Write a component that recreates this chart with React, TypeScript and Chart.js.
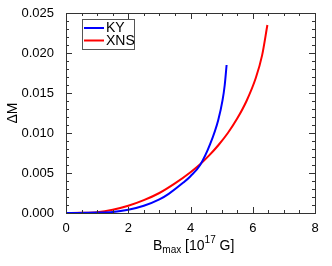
import React, { useEffect, useRef } from "react";
import { Chart, registerables } from "chart.js";

Chart.register(...registerables);

const kyB = [0, 1, 1.5, 2, 2.5, 3, 3.3, 3.77, 4, 4.31, 4.63, 4.89, 5.03, 5.1, 5.16];
const kyDM = [0, 0.00005, 0.00012, 0.0004, 0.0009, 0.0017, 0.0024, 0.0038, 0.0046, 0.006, 0.0086, 0.0116, 0.0141, 0.016, 0.0185];
const xnsB = [0, 0.5, 1, 1.5, 2, 2.5, 3, 3.5, 4, 4.31, 4.6, 4.9, 5.2, 5.5, 5.8, 6.1, 6.3, 6.47];
const xnsDM = [0, 0.00002, 0.0001, 0.0004, 0.0009, 0.0016, 0.0025, 0.0037, 0.0051, 0.0061, 0.0072, 0.0085, 0.01, 0.0118, 0.014, 0.0169, 0.0197, 0.0235];
const xTicks = [0, 2, 4, 6, 8];
const yTicks = [0, 0.005, 0.01, 0.015, 0.02, 0.025];
const seriesNames = ["KY", "XNS"];
const seriesColors = ["#0000ff", "#ff0000"];

const FONT = "'Liberation Sans', Arial, sans-serif";
const AXIS = "#333333";

const framePlugin = {
  id: "frame",
  afterDraw(chart: any) {
    const { ctx, chartArea: a, scales } = chart;
    const xs = scales.x;
    const ys = scales.y;
    ctx.save();
    ctx.strokeStyle = AXIS;
    ctx.lineWidth = 1;
    ctx.strokeRect(Math.round(a.left) + 0.5, Math.round(a.top) + 0.5, Math.round(a.right - a.left), Math.round(a.bottom - a.top));
    ctx.beginPath();
    for (let v = 0; v <= 8.0001; v += 0.5) {
      const px = Math.round(xs.getPixelForValue(v)) + 0.5;
      const major = Math.abs(v - Math.round(v / 2) * 2) < 1e-6;
      const len = major ? 6 : 3;
      ctx.moveTo(px, a.bottom);
      ctx.lineTo(px, a.bottom - len);
      ctx.moveTo(px, a.top);
      ctx.lineTo(px, a.top + len);
    }
    for (let i = 0; i <= 25; i++) {
      const v = i * 0.001;
      const py = Math.round(ys.getPixelForValue(v)) + 0.5;
      const major = i % 5 === 0;
      const len = major ? 6 : 3;
      ctx.moveTo(a.left, py);
      ctx.lineTo(a.left + len, py);
      ctx.moveTo(a.right, py);
      ctx.lineTo(a.right - len, py);
    }
    ctx.stroke();

    // legend
    const lx = a.left + 16;
    const ly = a.top + 6;
    ctx.fillStyle = "#ffffff";
    ctx.fillRect(lx, ly, 52, 30);
    ctx.strokeStyle = "#555555";
    ctx.strokeRect(lx + 0.5, ly + 0.5, 52, 30);
    ctx.font = `14px ${FONT}`;
    ctx.textBaseline = "middle";
    ctx.textAlign = "left";
    seriesNames.forEach((n, i) => {
      const y = ly + 9 + i * 12.5;
      ctx.strokeStyle = seriesColors[i];
      ctx.lineWidth = 2;
      ctx.beginPath();
      ctx.moveTo(lx + 2, y);
      ctx.lineTo(lx + 22, y);
      ctx.stroke();
      ctx.fillStyle = "#000";
      ctx.fillText(n, lx + 24, y + 0.5);
    });

    // y title
    ctx.save();
    ctx.translate(13, (a.top + a.bottom) / 2);
    ctx.rotate(-Math.PI / 2);
    ctx.textAlign = "center";
    ctx.textBaseline = "middle";
    ctx.font = `14px ${FONT}`;
    ctx.fillText("\u0394M", 0, 0);
    ctx.restore();

    // x title: B_max [10^17 G]
    const y0 = 250;
    let x = 153;
    ctx.textAlign = "left";
    ctx.textBaseline = "alphabetic";
    const big = `14px ${FONT}`;
    const small = `10px ${FONT}`;
    const parts: [string, string, number][] = [
      ["B", big, 0],
      ["max", small, 3],
      [" [10", big, 0],
      ["17", small, -7],
      [" G]", big, 0],
    ];
    for (const [t, f, dy] of parts) {
      ctx.font = f;
      ctx.fillText(t, x, y0 + dy);
      x += ctx.measureText(t).width;
    }
    ctx.restore();
  },
};

export default function App() {
  const ref = useRef<HTMLCanvasElement>(null);
  useEffect(() => {
    document.body.style.margin = "0";
    const chart = new Chart(ref.current!, {
      type: "line",
      data: {
        datasets: [
          {
            label: seriesNames[0],
            data: kyB.map((b, i) => ({ x: b, y: kyDM[i] })),
            borderColor: seriesColors[0],
            borderWidth: 2,
            pointRadius: 0,
            cubicInterpolationMode: "monotone",
          },
          {
            label: seriesNames[1],
            data: xnsB.map((b, i) => ({ x: b, y: xnsDM[i] })),
            borderColor: seriesColors[1],
            borderWidth: 2,
            pointRadius: 0,
            cubicInterpolationMode: "monotone",
          },
        ],
      },
      options: {
        animation: false,
        responsive: false,
        layout: { padding: { left: 0, right: 17, top: 13, bottom: 0 } },
        plugins: { legend: { display: false }, tooltip: { enabled: false } },
        scales: {
          x: {
            type: "linear",
            min: 0,
            max: 8,
            afterBuildTicks: (s: any) => { s.ticks = xTicks.map((v) => ({ value: v })); },
            afterFit: (s: any) => { s.height = 53; },
            grid: { display: false },
            border: { display: false },
            ticks: { color: "#000", font: { family: FONT, size: 13 }, padding: 0, maxRotation: 0 },
          },
          y: {
            type: "linear",
            min: 0,
            max: 0.025,
            afterBuildTicks: (s: any) => { s.ticks = yTicks.map((v) => ({ value: v })); },
            afterFit: (s: any) => { s.width = 66; },
            grid: { display: false },
            border: { display: false },
            ticks: {
              color: "#000",
              font: { family: FONT, size: 13 },
              padding: 4,
              callback: (v: any) => Number(v).toFixed(3),
            },
          },
        },
      },
      plugins: [framePlugin],
    } as any);
    return () => chart.destroy();
  }, []);
  return (
    <div style={{ position: "fixed", left: 0, top: 0, width: 332, height: 266, background: "#fff" }}>
      <canvas ref={ref} width={332} height={266} />
    </div>
  );
}
